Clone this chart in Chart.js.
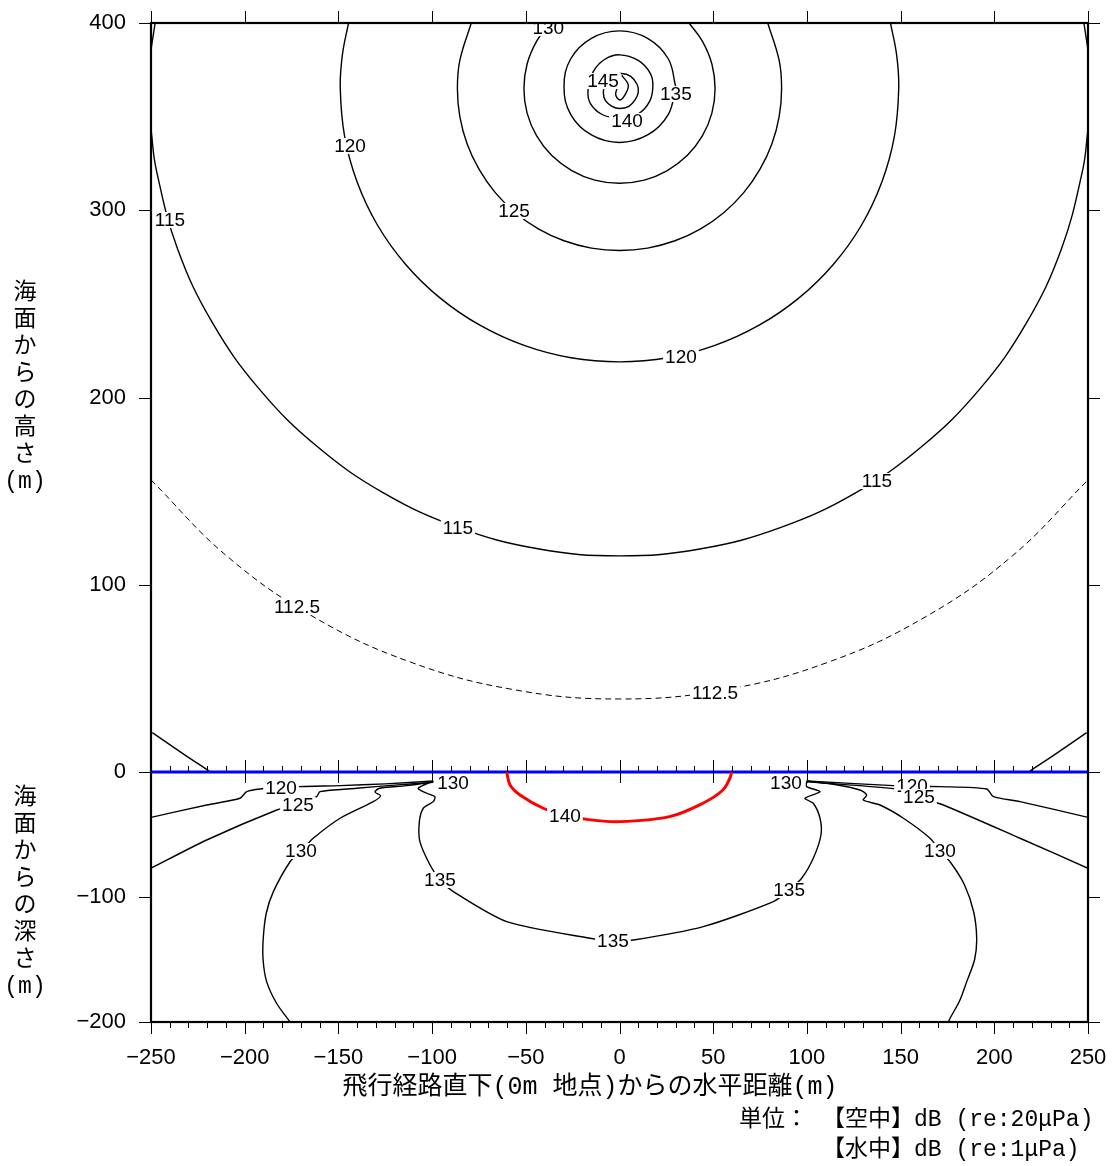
<!DOCTYPE html>
<html>
<head>
<meta charset="utf-8">
<script src="https://cdn.jsdelivr.net/npm/chart.js@4.4.1/dist/chart.umd.min.js"></script>
<style>
  body { margin: 0; background: #fff; }
  #wrap { width: 1113px; height: 1166px; }
</style>
</head>
<body>
<div id="wrap"><canvas id="contour-chart" width="1113" height="1166"></canvas></div>
<script>
// tick values
const xMajorTicks = [-250, -200, -150, -100, -50, 0, 50, 100, 150, 200, 250];
const xMinorStep = 10;
const airTicks = [0, 100, 200, 300, 400];
const seaTicks = [-200, -100, 0];

// contour lines in the air (x m, height m)
const air115 = [[-250, 343.2], [-247.2, 321.7], [-235.9, 279.6], [-217.4, 240.2], [-192.3, 204.6], [-161.3, 173.8], [-125.5, 148.8], [-85.8, 130.5], [-43.6, 119.2], [0, 115.4], [43.6, 119.2], [85.8, 130.5], [125.5, 148.8], [161.3, 173.8], [192.3, 204.6], [217.4, 240.2], [235.9, 279.6], [247.2, 321.7], [250, 343.2]];
const air115CornerL = [[-247.8, 400], [-249.8, 387]];
const air115CornerR = [[247.8, 400], [249.8, 387]];
const air120 = [[-144.6, 400], [-147.9, 382.8], [-149, 365], [-146.7, 339.6], [-140, 315.1], [-129.1, 292], [-114.2, 271.2], [-95.8, 253.2], [-74.5, 238.6], [-50.9, 227.8], [-25.9, 221.2], [0, 219], [25.9, 221.2], [50.9, 227.8], [74.5, 238.6], [95.8, 253.2], [114.2, 271.2], [129.1, 292], [140, 315.1], [146.7, 339.6], [149, 365], [147.9, 382.8], [144.6, 400]];
const air125 = [[-79.1, 400], [-85.2, 380], [-86.5, 365], [-85.2, 350], [-81.3, 335.4], [-74.9, 321.8], [-66.3, 309.4], [-55.6, 298.7], [-43.3, 290.1], [-29.6, 283.7], [-15, 279.8], [0, 278.5], [15, 279.8], [29.6, 283.7], [43.3, 290.1], [55.6, 298.7], [66.3, 309.4], [74.9, 321.8], [81.3, 335.4], [85.2, 350], [86.5, 365], [85.2, 380], [79.1, 400]];
const air130 = [[-37.1, 400], [-44.2, 390.3], [-49.3, 378.1], [-51, 365], [-49.3, 351.9], [-44.2, 339.7], [-36.1, 329.2], [-25.5, 321.2], [-13.2, 316.1], [0, 314.4], [13.2, 316.1], [25.5, 321.2], [36.1, 329.2], [44.2, 339.7], [49.3, 351.9], [51, 365], [49.3, 378.1], [44.2, 390.3], [37.1, 400]];
const air135 = [[30, 366], [26, 380.9], [15, 391.8], [0, 395.8], [-15, 391.8], [-26, 380.9], [-29.6, 366], [-26, 351.1], [-15, 340.2], [0, 336.2], [15, 340.2], [26, 351.1], [30, 366]];
const air140 = [[0, 349], [10, 351.5], [16, 358], [17.8, 366], [16.5, 373], [10, 380], [0, 383], [-8, 380.5], [-14, 374], [-16.8, 364], [-15.5, 357], [-9, 351], [0, 349]];
const air145 = [[-8, 367], [-4.5, 371.5], [1, 373], [6, 371.5], [9.5, 367], [10, 363], [8.3, 358.9], [5, 355.5], [0, 354.3], [-4, 355.5], [-7.5, 358.5], [-8.6, 362.5], [-8, 367]];
const airInner = [[1.2, 372], [4.7, 366.9], [2.9, 361.6], [0.3, 358.9], [-2, 361.6], [-1, 366]];
const air112 = [[-250, 156], [-209.5, 115.3], [-163, 82.7], [-111.5, 58.7], [-56.6, 44], [0, 39], [56.6, 44], [111.5, 58.7], [163, 82.7], [209.5, 115.3], [250, 156]];
const airEdgeL = [[-249.3, 21], [-234, 10.5], [-219, 0.5]];
const airEdgeR = [[219, 0.5], [234, 10.5], [249.3, 21]];

// contour lines under water (x m, depth m)
const sea140 = [[-60.2, 0], [-58.4, -10.4], [-53.1, -18.4], [-40.7, -29], [-29, -34.2], [-17.5, -37.9], [0, -39.7], [26.7, -35.7], [44.5, -25], [55.2, -14.4], [58.9, -5], [59.8, 0]];
const sea120L = [[-250, -36.3], [-220.3, -26.4], [-202.5, -21], [-198.9, -15.7], [-191.8, -13.6], [-180.6, -12.8], [-170.5, -11.7], [-149.1, -10.9], [-125, -9.5], [-99.4, -7.2]];
const sea125L = [[-250, -77], [-220.3, -54.4], [-182.9, -30.4], [-171.6, -25.5], [-161.6, -19.7], [-159.8, -15.7], [-140.2, -13], [-120, -10.5], [-99.4, -8.3]];
const sea130L = [[-175.8, -200], [-183, -185], [-188.3, -167.7], [-190.2, -150], [-190.1, -133], [-188.5, -113], [-184.7, -95.7], [-175.8, -71.8], [-170, -63.2], [-163.4, -53], [-149.1, -37], [-131.4, -23.7], [-127.5, -19], [-130.5, -16], [-128, -13], [-113.6, -10.9], [-99.4, -7.8]];
const sea135 = [[-99.4, -7.2], [-107.4, -13], [-102.9, -17], [-98.5, -19.8], [-99.4, -23.7], [-104.7, -29], [-106.8, -39.7], [-106.5, -55.7], [-101.1, -74.4], [-95.8, -86.4], [-88.7, -95.7], [-60.2, -119.7], [-15.7, -133], [-3.5, -135.2], [7.4, -134.4], [44.7, -123.7], [82.1, -103.7], [90.4, -94.4], [97.2, -85], [103.4, -69], [107.5, -50.4], [107, -37], [103.4, -25], [99, -21], [107, -15.7], [99.9, -11.7], [99.9, -7.2]];
const sea130R = [[99.9, -7.2], [115, -10], [128.3, -14.4], [131.9, -18.4], [130.1, -22.4], [139, -26.4], [151.5, -37], [165.7, -53], [171, -63.2], [176.4, -71.8], [184, -90], [189, -112], [190.6, -133], [189.5, -150], [185.3, -167.7], [181.5, -183], [176.4, -197], [175.5, -200]];
const sea120R = [[99.9, -7.2], [146.1, -10.9], [171, -11.7], [195.9, -13.6], [199.5, -19.7], [213.7, -23.7], [250, -36.3]];
const sea125R = [[99.9, -7.8], [153.3, -14.4], [160, -20], [172.8, -26.4], [213.7, -53], [250, -77]];
const seaSurface = [[-250, 0], [250, 0]];

// contour labels [text, x, y]
const airLabels = [['130', -38, 397.3], ['145', -8.8, 369], ['135', 30.1, 362.1], ['140', 4, 347.7], ['120', -143.8, 334.3], ['125', -56.3, 299.6], ['115', -239.9, 294.8], ['120', 32.8, 221.6], ['115', 137.4, 155.4], ['115', -86.2, 130.3], ['112.5', -172.1, 88.1], ['112.5', 51, 42.2]];
const seaLabels = [['120', -180.6, -12.8], ['130', -88.8, -8.8], ['125', -171.6, -26.4], ['140', -29.1, -35.2], ['130', -170, -63.2], ['135', -95.8, -86.4], ['135', -3.5, -135.2], ['135', 90.5, -94.4], ['130', 88.8, -8.8], ['120', 156.1, -11.2], ['125', 159.8, -20], ['130', 171, -63.2]];

const airTitle = ['海', '面', 'か', 'ら', 'の', '高', 'さ', '(m)'];
const seaTitle = ['海', '面', 'か', 'ら', 'の', '深', 'さ', '(m)'];
const xTitle = '飛行経路直下(0m 地点)からの水平距離(m)';
const unitHead = '単位：';
const unitLines = ['【空中】dB (re:20μPa)', '【水中】dB (re:1μPa)'];

const pts = arr => arr.map(([x, y]) => ({ x, y }));
const line = (arr, yAxisID, extra) => Object.assign({
  data: pts(arr), yAxisID, showLine: true, pointRadius: 0,
  borderColor: '#000', borderWidth: 1.4, tension: 0.4, fill: false
}, extra || {});

const datasets = [
  line(air115, 'yAir'), line(air115CornerL, 'yAir'), line(air115CornerR, 'yAir'),
  line(air120, 'yAir'), line(air125, 'yAir'), line(air130, 'yAir'),
  line(air135, 'yAir'), line(air140, 'yAir'), line(air145, 'yAir'), line(airInner, 'yAir'),
  line(air112, 'yAir', { borderWidth: 1, borderDash: [6, 4] }),
  line(airEdgeL, 'yAir'), line(airEdgeR, 'yAir'),
  line(sea120L, 'ySea', { tension: 0.25 }), line(sea125L, 'ySea', { tension: 0.25 }),
  line(sea130L, 'ySea', { tension: 0.3 }), line(sea135, 'ySea', { tension: 0.25 }),
  line(sea130R, 'ySea', { tension: 0.3 }), line(sea120R, 'ySea', { tension: 0.25 }),
  line(sea125R, 'ySea', { tension: 0.25 }),
  line(sea140, 'ySea', { borderColor: '#f00', borderWidth: 3, tension: 0.35, clip: 4 }),
  line(seaSurface, 'ySea', { borderColor: '#00f', borderWidth: 3, tension: 0, clip: 4 })
];

const minus = v => (v < 0 ? '\u2212' + Math.abs(v) : String(v));
const tickFont = { family: '"Liberation Sans", Arial, sans-serif', size: 22 };
const jpFont = '"Liberation Mono", "Noto Sans CJK JP", monospace';

// drop label overflow padding so the plot area keeps its exact size
const noPad = s => { s.paddingTop = 0; s.paddingBottom = 0; s.paddingLeft = 0; s.paddingRight = 0; };

const decorations = {
  id: 'decorations',
  afterDatasetsDraw(chart) {
    const { ctx, chartArea: a, scales } = chart;
    const xs = scales.x;
    ctx.save();
    ctx.beginPath();
    ctx.rect(a.left, a.top, a.width, a.height);
    ctx.clip();
    ctx.font = '19px "Liberation Sans", Arial, sans-serif';
    ctx.textAlign = 'center';
    ctx.textBaseline = 'middle';
    const drawLabels = (list, ys) => list.forEach(([t, vx, vy]) => {
      const px = xs.getPixelForValue(vx), py = ys.getPixelForValue(vy);
      const w = ctx.measureText(t).width;
      ctx.fillStyle = '#fff';
      ctx.fillRect(px - w / 2 - 2, py - 8, w + 4, 16);
      ctx.fillStyle = '#000';
      ctx.fillText(t, px, py + 1);
    });
    drawLabels(airLabels, scales.yAir);
    drawLabels(seaLabels, scales.ySea);
    ctx.restore();

    ctx.save();
    ctx.strokeStyle = '#000';
    ctx.lineWidth = 1;
    const seg = (x1, y1, x2, y2) => { ctx.beginPath(); ctx.moveTo(x1, y1); ctx.lineTo(x2, y2); ctx.stroke(); };
    const y0 = scales.ySea.getPixelForValue(0);
    for (let v = -250; v <= 250; v += xMinorStep) {
      const px = Math.round(xs.getPixelForValue(v)) + 0.5;
      if (xMajorTicks.includes(v)) {
        seg(px, a.bottom, px, a.bottom + 12);
        seg(px, a.top, px, a.top - 12);
        seg(px, y0 - 12, px, y0 + 11);
      } else {
        seg(px, a.bottom, px, a.bottom + 6);
        seg(px, y0 - 6, px, y0);
      }
    }
    const yTick = (ys, list) => list.forEach(v => {
      const py = Math.round(ys.getPixelForValue(v)) + 0.5;
      seg(a.left - 12, py, a.left, py);
      seg(a.right, py, a.right + 12, py);
    });
    yTick(scales.yAir, airTicks);
    yTick(scales.ySea, seaTicks);
    ctx.lineWidth = 2.2;
    ctx.strokeRect(a.left, a.top, a.width, a.height);
    ctx.restore();
  },
  afterDraw(chart) {
    const { ctx } = chart;
    ctx.save();
    ctx.fillStyle = '#000';
    ctx.font = '23px ' + jpFont;
    ctx.textAlign = 'center';
    ctx.textBaseline = 'middle';
    airTitle.forEach((c, i) => ctx.fillText(c, 25, 293 + i * 27));
    seaTitle.forEach((c, i) => ctx.fillText(c, 25, 798 + i * 27));
    ctx.font = '25px ' + jpFont;
    ctx.fillText(xTitle, 590, 1087);
    ctx.font = '23px ' + jpFont;
    ctx.textAlign = 'right';
    ctx.fillText(unitHead, 808, 1120);
    ctx.textAlign = 'left';
    ctx.fillText(unitLines[0], 822, 1120);
    ctx.fillText(unitLines[1], 822, 1150);
    ctx.restore();
  }
};

new Chart(document.getElementById('contour-chart'), {
  type: 'scatter',
  data: { datasets },
  options: {
    responsive: false,
    animation: false,
    events: [],
    layout: { padding: { left: 0, top: 23, right: 25, bottom: 0 } },
    plugins: { legend: { display: false }, tooltip: { enabled: false } },
    scales: {
      x: {
        type: 'linear', min: -250, max: 250,
        grid: { display: false, drawTicks: false }, border: { display: false },
        ticks: { stepSize: 50, padding: 23, color: '#000', font: tickFont, callback: minus },
        afterFit: s => { s.height = 144; noPad(s); }
      },
      ySea: {
        type: 'linear', position: 'left', stack: 'depth', stackWeight: 250,
        min: -200, max: 0,
        grid: { display: false, drawTicks: false }, border: { display: false },
        ticks: { stepSize: 100, padding: 25, color: '#000', font: tickFont, callback: minus },
        afterFit: s => { s.width = 151; noPad(s); }
      },
      yAir: {
        type: 'linear', position: 'left', stack: 'depth', stackWeight: 749,
        min: 0, max: 400,
        grid: { display: false, drawTicks: false }, border: { display: false },
        ticks: { stepSize: 100, padding: 25, color: '#000', font: tickFont, callback: v => (v === 0 ? '' : minus(v)) },
        afterFit: s => { s.width = 151; noPad(s); }
      }
    }
  },
  plugins: [decorations]
});
</script>
</body>
</html>
